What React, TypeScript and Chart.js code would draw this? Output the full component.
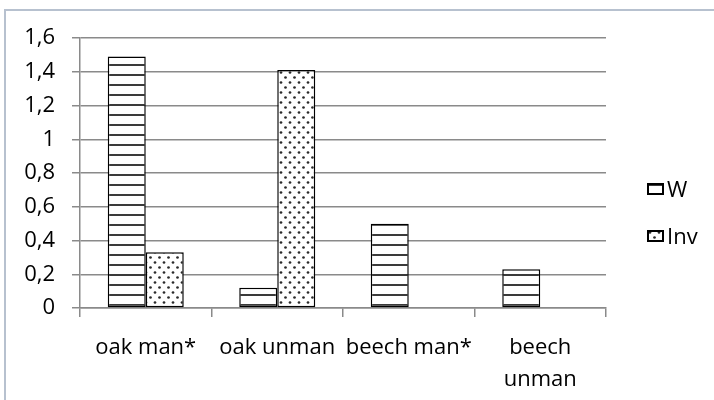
import React, { useEffect, useRef } from "react";
import { Chart, registerables } from "chart.js";

Chart.register(...registerables);

const categories: (string | string[])[] = ["oak man*", "oak unman", "beech man*", ["beech", "unman"]];
const wValues = [1.49, 0.12, 0.5, 0.23];
const invValues = [0.33, 1.41, 0, 0];
const seriesNames = ["W", "Inv"];
const yTickLabels = ["0", "0,2", "0,4", "0,6", "0,8", "1", "1,2", "1,4", "1,6"];

const FONT = "'Open Sans', sans-serif";
const FONT_SIZE = 22;

function makeLinesPattern(ctx: CanvasRenderingContext2D): CanvasPattern | string {
  const c = document.createElement("canvas");
  c.width = 10;
  c.height = 10;
  const g = c.getContext("2d")!;
  g.fillStyle = "#ffffff";
  g.fillRect(0, 0, 10, 10);
  g.fillStyle = "#3a3a3a";
  g.fillRect(0, 4, 10, 2);
  return ctx.createPattern(c, "repeat") || "#fff";
}

function makeDotsPattern(ctx: CanvasRenderingContext2D): CanvasPattern | string {
  const c = document.createElement("canvas");
  c.width = 9;
  c.height = 10;
  const g = c.getContext("2d")!;
  g.fillStyle = "#ffffff";
  g.fillRect(0, 0, 9, 10);
  g.fillStyle = "#2a2a2a";
  g.beginPath();
  g.arc(2, 2.5, 1.35, 0, Math.PI * 2);
  g.fill();
  g.beginPath();
  g.arc(6.5, 7.5, 1.35, 0, Math.PI * 2);
  g.fill();
  return ctx.createPattern(c, "repeat") || "#fff";
}

const frameAndLegend = {
  id: "frameAndLegend",
  beforeDraw(chart: any) {
    const ctx = chart.ctx as CanvasRenderingContext2D;
    ctx.save();
    ctx.fillStyle = "#ffffff";
    ctx.fillRect(0, 0, chart.width, chart.height);
    ctx.strokeStyle = "#b7c1cf";
    ctx.lineWidth = 2;
    ctx.beginPath();
    ctx.moveTo(5, chart.height);
    ctx.lineTo(5, 10);
    ctx.lineTo(chart.width, 10);
    ctx.stroke();
    ctx.restore();
  },
  afterDraw(chart: any) {
    const ctx = chart.ctx as CanvasRenderingContext2D;
    const area = chart.chartArea;
    const x0 = area.right + 42;
    const yStart = 188;
    const gap = 47;
    ctx.save();
    chart.data.datasets.forEach((ds: any, i: number) => {
      const cy = yStart + i * gap;
      ctx.fillStyle = ds.backgroundColor;
      ctx.fillRect(x0, cy - 4, 15, 10);
      ctx.strokeStyle = "#000";
      ctx.lineWidth = 2;
      ctx.strokeRect(x0, cy - 4, 15, 10);
      ctx.fillStyle = "#000";
      ctx.font = `${FONT_SIZE}px ${FONT}`;
      ctx.textBaseline = "middle";
      ctx.textAlign = "left";
      ctx.fillText(ds.label, x0 + 19, cy + 3);
    });
    ctx.restore();
  },
};

export default function App() {
  const ref = useRef<HTMLCanvasElement>(null);

  useEffect(() => {
    document.body.style.margin = "0";
    const canvas = ref.current!;
    const ctx = canvas.getContext("2d")!;
    const linesPat = makeLinesPattern(ctx);
    const dotsPat = makeDotsPattern(ctx);

    const chart = new Chart(canvas, {
      type: "bar",
      data: {
        labels: categories,
        datasets: [
          {
            label: seriesNames[0],
            data: wValues,
            backgroundColor: linesPat as any,
            borderColor: "#000",
            borderWidth: (c: any) => (c.raw === 0 ? 0 : 1.5),
            borderSkipped: false,
          },
          {
            label: seriesNames[1],
            data: invValues,
            backgroundColor: dotsPat as any,
            borderColor: "#000",
            borderWidth: (c: any) => (c.raw === 0 ? 0 : 1.5),
            borderSkipped: false,
          },
        ],
      },
      options: {
        responsive: false,
        animation: false,
        layout: { padding: { left: 0, top: 38, right: 108, bottom: 0 } },
        datasets: { bar: { categoryPercentage: 0.578, barPercentage: 1.0 } },
        plugins: {
          legend: { display: false },
          tooltip: { enabled: false },
        },
        scales: {
          x: {
            grid: {
              offset: true,
              drawOnChartArea: false,
              drawTicks: true,
              tickLength: 9,
              color: "#8a8a8a",
              lineWidth: 1.5,
            },
            border: { color: "#8a8a8a", width: 1.5 },
            ticks: {
              color: "#000",
              font: { family: FONT, size: FONT_SIZE, lineHeight: 1.45 },
              padding: 15,
              maxRotation: 0,
              minRotation: 0,
              autoSkip: false,
            },
            afterFit: (s: any) => {
              s.height = 92;
            },
          },
          y: {
            min: 0,
            max: 1.6,
            ticks: {
              stepSize: 0.2,
              color: "#000",
              font: { family: FONT, size: FONT_SIZE },
              padding: 17,
              callback: (_v: any, i: number) => yTickLabels[i],
            },
            grid: {
              color: "#8a8a8a",
              lineWidth: 1.5,
              drawTicks: true,
              tickLength: 8,
            },
            border: { color: "#8a8a8a", width: 1.5 },
            afterFit: (s: any) => {
              s.width = 80;
            },
          },
        },
      },
      plugins: [frameAndLegend],
    } as any);

    return () => chart.destroy();
  }, []);

  return (
    <div style={{ position: "absolute", left: 0, top: 0, width: 714, height: 400 }}>
      <canvas ref={ref} width={714} height={400} style={{ display: "block" }} />
    </div>
  );
}
